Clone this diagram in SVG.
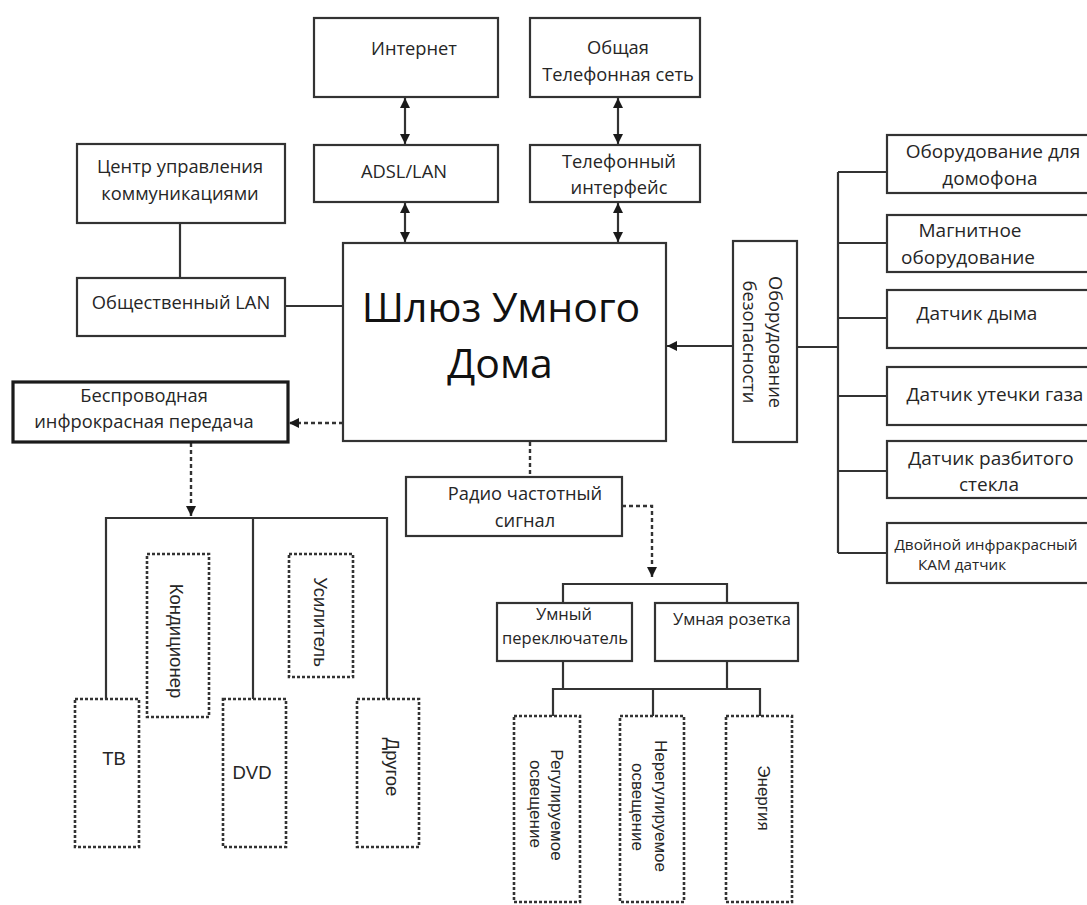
<svg xmlns="http://www.w3.org/2000/svg" width="1087" height="905" viewBox="0 0 1087 905">
  <style>
    .box { fill: #ffffff; stroke: #333333; stroke-width: 2.2; }
    .box-bold { fill: #ffffff; stroke: #1a1a1a; stroke-width: 3.2; }
    .dbox { fill: #ffffff; stroke: #333333; stroke-width: 2.6; stroke-dasharray: 3 2; }
    .ln { fill: none; stroke: #333333; stroke-width: 2.2; }
    .dln { fill: none; stroke: #333333; stroke-width: 2.4; stroke-dasharray: 4 3; }
    .t { font-family: "Open Sans", "Liberation Sans", sans-serif; font-size: 18.3px; fill: #262626; text-anchor: middle; }
    .tr { font-family: "Open Sans", "Liberation Sans", sans-serif; font-size: 19px; fill: #262626; text-anchor: middle; }
    .ts { font-family: "Open Sans", "Liberation Sans", sans-serif; font-size: 16.5px; fill: #262626; text-anchor: middle; }
    .tx { font-family: "Open Sans", "Liberation Sans", sans-serif; font-size: 15.3px; fill: #262626; text-anchor: middle; }
    .big { font-family: "Open Sans", "Liberation Sans", sans-serif; font-size: 41px; fill: #111111; text-anchor: middle; }
    .a { font-family: "Liberation Sans", Arial, sans-serif; font-size: 18.5px; fill: #262626; text-anchor: middle; }
    .a17 { font-family: "Liberation Sans", Arial, sans-serif; font-size: 17px; fill: #262626; text-anchor: middle; }
  </style>
  <defs>
    <marker id="arr" viewBox="0 0 10 10" refX="10" refY="5" markerWidth="10" markerHeight="10" markerUnits="userSpaceOnUse" orient="auto-start-reverse">
      <path d="M0,0 L10,5 L0,10 z" fill="#1a1a1a"/>
    </marker>
  </defs>
  <rect width="1087" height="905" fill="#ffffff"/>

  <!-- connectors -->
  <g id="connectors">
    <!-- uplinks -->
    <line class="ln" x1="405" y1="98" x2="405" y2="144" marker-start="url(#arr)" marker-end="url(#arr)"/>
    <line class="ln" x1="618" y1="98" x2="618" y2="144" marker-start="url(#arr)" marker-end="url(#arr)"/>
    <line class="ln" x1="405" y1="203" x2="405" y2="242" marker-start="url(#arr)" marker-end="url(#arr)"/>
    <line class="ln" x1="618" y1="203" x2="618" y2="242" marker-start="url(#arr)" marker-end="url(#arr)"/>
    <!-- community centre and LAN -->
    <line class="ln" x1="180" y1="223" x2="180" y2="278"/>
    <line class="ln" x1="285" y1="306" x2="343" y2="306"/>
    <!-- infrared branch -->
    <line class="dln" x1="343" y1="423" x2="289" y2="423" marker-end="url(#arr)"/>
    <line class="dln" x1="191" y1="443" x2="191" y2="516" marker-end="url(#arr)"/>
    <polyline class="ln" points="106,699 106,518 387,518 387,699"/>
    <line class="ln" x1="253" y1="518" x2="253" y2="699"/>
    <!-- radio branch -->
    <line class="dln" x1="530" y1="442" x2="530" y2="477"/>
    <polyline class="dln" points="622,506 652,506 652,577" marker-end="url(#arr)"/>
    <polyline class="ln" points="563,603 563,584 727,584 727,603"/>
    <line class="ln" x1="563" y1="661" x2="563" y2="689"/>
    <line class="ln" x1="727" y1="661" x2="727" y2="689"/>
    <polyline class="ln" points="553,716 553,689 760,689 760,716"/>
    <line class="ln" x1="653" y1="689" x2="653" y2="716"/>
    <!-- security branch -->
    <line class="ln" x1="733" y1="346" x2="667" y2="346" marker-end="url(#arr)"/>
    <line class="ln" x1="797" y1="347" x2="838" y2="347"/>
    <line class="ln" x1="838" y1="172" x2="838" y2="553"/>
    <line class="ln" x1="838" y1="172" x2="887" y2="172"/>
    <line class="ln" x1="838" y1="243" x2="887" y2="243"/>
    <line class="ln" x1="838" y1="318" x2="887" y2="318"/>
    <line class="ln" x1="838" y1="396" x2="887" y2="396"/>
    <line class="ln" x1="838" y1="471" x2="887" y2="471"/>
    <line class="ln" x1="838" y1="553" x2="887" y2="553"/>
  </g>

  <!-- top row -->
  <g id="internet">
    <rect class="box" x="314" y="18" width="184" height="79"/>
    <text class="t" x="414" y="55">Интернет</text>
  </g>
  <g id="phone-network">
    <rect class="box" x="530" y="18" width="170" height="79"/>
    <text class="t" x="618" y="54">Общая</text>
    <text class="t" x="618" y="81">Телефонная сеть</text>
  </g>
  <g id="adsl">
    <rect class="box" x="314" y="145" width="184" height="57"/>
    <text class="t" x="404" y="178">ADSL/LAN</text>
  </g>
  <g id="phone-interface">
    <rect class="box" x="530" y="145" width="170" height="57"/>
    <text class="t" x="619" y="168">Телефонный</text>
    <text class="t" x="619" y="194">интерфейс</text>
  </g>

  <!-- left column -->
  <g id="control-center">
    <rect class="box" x="77" y="144" width="208" height="79"/>
    <text class="t" x="180" y="173">Центр управления</text>
    <text class="t" x="180" y="200">коммуникациями</text>
  </g>
  <g id="public-lan">
    <rect class="box" x="77" y="278" width="208" height="58"/>
    <text class="t" x="181" y="309">Общественный LAN</text>
  </g>

  <!-- gateway -->
  <g id="gateway">
    <rect class="box" x="343" y="243" width="323" height="198"/>
    <text class="big" x="501" y="322">Шлюз Умного</text>
    <text class="big" x="500" y="378">Дома</text>
  </g>

  <!-- infrared transmission and devices -->
  <g id="infrared">
    <rect class="box-bold" x="13" y="382" width="275" height="60"/>
    <text class="t" x="144" y="402">Беспроводная</text>
    <text class="t" x="144" y="428">инфрокрасная передача</text>
  </g>
  <g id="tv">
    <rect class="dbox" x="75" y="699" width="64" height="148"/>
    <text class="a" x="114" y="765">ТВ</text>
  </g>
  <g id="conditioner">
    <rect class="dbox" x="147" y="554" width="62" height="163"/>
    <text class="a" transform="translate(170,641) rotate(90)">Кондиционер</text>
  </g>
  <g id="dvd">
    <rect class="dbox" x="223" y="699" width="63" height="148"/>
    <text class="a" x="252" y="779">DVD</text>
  </g>
  <g id="amplifier">
    <rect class="dbox" x="289" y="554" width="64" height="123"/>
    <text class="a" transform="translate(314,622) rotate(90)">Усилитель</text>
  </g>
  <g id="other">
    <rect class="dbox" x="357" y="699" width="62" height="148"/>
    <text class="a" transform="translate(386,767) rotate(90)">Другое</text>
  </g>

  <!-- radio signal branch -->
  <g id="radio">
    <rect class="box" x="406" y="477" width="216" height="59"/>
    <text class="t" x="525" y="500">Радио частотный</text>
    <text class="t" x="525" y="527">сигнал</text>
  </g>
  <g id="smart-switch">
    <rect class="box" x="497" y="603" width="135" height="58"/>
    <text class="ts" x="564" y="620">Умный</text>
    <text class="ts" x="565" y="644">переключатель</text>
  </g>
  <g id="smart-socket">
    <rect class="box" x="655" y="603" width="143" height="58"/>
    <text class="ts" x="732" y="625">Умная розетка</text>
  </g>
  <g id="dimmable-light">
    <rect class="dbox" x="514" y="716" width="66" height="186"/>
    <text class="a17" transform="translate(551,805) rotate(90)">Регулируемое</text>
    <text class="a17" transform="translate(530,804) rotate(90)">освещение</text>
  </g>
  <g id="plain-light">
    <rect class="dbox" x="620" y="716" width="64" height="186"/>
    <text class="a17" transform="translate(655,806) rotate(90)">Нерегулируемое</text>
    <text class="a17" transform="translate(632,807) rotate(90)">освещение</text>
  </g>
  <g id="energy">
    <rect class="dbox" x="726" y="716" width="66" height="186"/>
    <text class="a17" transform="translate(758,798) rotate(90)">Энергия</text>
  </g>

  <!-- security equipment -->
  <g id="security">
    <rect class="box" x="733" y="241" width="64" height="201"/>
    <text class="t" transform="translate(769,342) rotate(90)">Оборудование</text>
    <text class="t" transform="translate(743,342) rotate(90)">безопасности</text>
  </g>
  <g id="intercom">
    <rect class="box" x="887" y="135" width="210" height="58"/>
    <text class="tr" x="993" y="158">Оборудование для</text>
    <text class="tr" x="990" y="185">домофона</text>
  </g>
  <g id="magnetic">
    <rect class="box" x="887" y="215" width="210" height="57"/>
    <text class="tr" x="970" y="237">Магнитное</text>
    <text class="tr" x="968" y="264">оборудование</text>
  </g>
  <g id="smoke">
    <rect class="box" x="887" y="290" width="210" height="58"/>
    <text class="tr" x="977" y="320">Датчик дыма</text>
  </g>
  <g id="gas">
    <rect class="box" x="887" y="367" width="210" height="58"/>
    <text class="tr" x="995" y="401">Датчик утечки газа</text>
  </g>
  <g id="glass">
    <rect class="box" x="887" y="441" width="210" height="57"/>
    <text class="tr" x="991" y="465">Датчик разбитого</text>
    <text class="tr" x="989" y="491">стекла</text>
  </g>
  <g id="dual-ir">
    <rect class="box" x="887" y="523" width="210" height="60"/>
    <text class="tx" x="986" y="550">Двойной инфракрасный</text>
    <text class="tx" x="962" y="570">КАМ датчик</text>
  </g>
</svg>
